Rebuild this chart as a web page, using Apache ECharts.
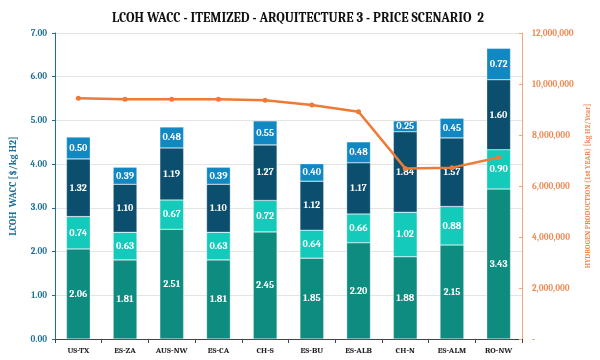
<!DOCTYPE html>
<html>
<head>
<meta charset="utf-8">
<script src="https://cdn.jsdelivr.net/npm/echarts@6/dist/echarts.min.js"></script>
<style>
  html, body { margin: 0; padding: 0; background: #fff; }
  #main { width: 600px; height: 360px; }
</style>
</head>
<body>
<div id="main"></div>
<script>
var categories = ["US-TX", "ES-ZA", "AUS-NW", "ES-CA", "CH-S", "ES-BU", "ES-ALB", "CH-N", "ES-ALM", "RO-NW"];
var part1 = [2.06, 1.81, 2.51, 1.81, 2.45, 1.85, 2.20, 1.88, 2.15, 3.43];
var part2 = [0.74, 0.63, 0.67, 0.63, 0.72, 0.64, 0.66, 1.02, 0.88, 0.90];
var part3 = [1.32, 1.10, 1.19, 1.10, 1.27, 1.12, 1.17, 1.84, 1.57, 1.60];
var part4 = [0.50, 0.39, 0.48, 0.39, 0.55, 0.40, 0.48, 0.25, 0.45, 0.72];
var production = [9440000, 9400000, 9400000, 9400000, 9360000, 9180000, 8910000, 6690000, 6720000, 7120000];

var serif = "Cambria, 'DejaVu Serif', serif";

var myChart = echarts.init(document.getElementById("main"));

function barSeries(name, data, color) {
  return {
    name: name,
    type: "bar",
    stack: "lcoh",
    barWidth: "51%",
    data: data,
    itemStyle: { color: color, borderColor: "rgba(255,255,255,0.6)", borderWidth: 0.5 },
    label: {
      show: true,
      color: "#fff",
      fontFamily: serif,
      fontWeight: "bold",
      fontSize: 10,
      formatter: function (p) { return p.value.toFixed(2); }
    }
  };
}

myChart.setOption({
  animation: false,
  title: {
    text: "LCOH WACC - ITEMIZED - ARQUITECTURE 3 - PRICE SCENARIO  2",
    left: 107,
    top: 7,
    textStyle: { fontFamily: serif, fontWeight: "bold", fontSize: 13.2, color: "#111" }
  },
  grid: { left: 49, right: 78, top: 33, bottom: 21 },
  xAxis: {
    type: "category",
    data: categories,
    axisLine: { lineStyle: { color: "#444", width: 1 } },
    axisTick: { show: true, length: 4, lineStyle: { color: "#444" } },
    axisLabel: { color: "#222", fontFamily: serif, fontWeight: "bold", fontSize: 8.5, margin: 7 }
  },
  yAxis: [
    {
      type: "value",
      min: 0,
      max: 7,
      interval: 1,
      name: "LCOH  WACC [$/kg H2]",
      nameLocation: "middle",
      nameGap: 37,
      nameTextStyle: { color: "#1f6f93", fontFamily: serif, fontWeight: "bold", fontSize: 10 },
      axisLine: { show: true, lineStyle: { color: "#1f6f93" } },
      axisTick: { show: true, length: 3, lineStyle: { color: "#1f6f93" } },
      axisLabel: {
        color: "#1f6f93", fontFamily: serif, fontWeight: "bold", fontSize: 9,
        formatter: function (v) { return v.toFixed(2); }
      },
      splitLine: { lineStyle: { color: "#e4e4e4" } }
    },
    {
      type: "value",
      min: 0,
      max: 12000000,
      interval: 2000000,
      name: "HYDROGEN PRODUCTION (1st YEAR) [kg H2/Year]",
      nameLocation: "middle",
      nameGap: 62,
      nameRotate: 90,
      nameTextStyle: { color: "#ef8a55", fontFamily: serif, fontWeight: "bold", fontSize: 7.4 },
      axisLine: { show: true, lineStyle: { color: "#f4a57a" } },
      axisTick: { show: true, inside: true, length: 3, lineStyle: { color: "#f4a57a" } },
      axisLabel: {
        color: "#ef8a55", fontFamily: serif, fontWeight: "bold", fontSize: 9, margin: 10,
        formatter: function (v) { return v === 0 ? "-" : v.toLocaleString("en-US"); }
      },
      splitLine: { show: false }
    }
  ],
  series: [
    barSeries("p1", part1, "#0e8c80"),
    barSeries("p2", part2, "#14cabb"),
    barSeries("p3", part3, "#0b4e6e"),
    barSeries("p4", part4, "#1188c2"),
    {
      name: "production",
      type: "line",
      yAxisIndex: 1,
      data: production,
      symbol: "circle",
      symbolSize: 5,
      lineStyle: { color: "#ef7a35", width: 2.5 },
      itemStyle: { color: "#ef7a35" },
      z: 10
    }
  ]
});
</script>
</body>
</html>
